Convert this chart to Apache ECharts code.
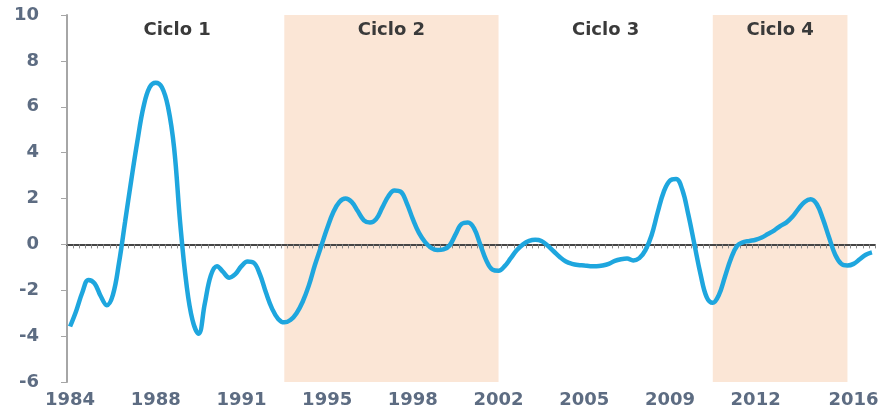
<!DOCTYPE html>
<html>
<head>
<meta charset="utf-8">
<script src="https://cdn.jsdelivr.net/npm/echarts@6/dist/echarts.min.js"></script>
<style>html,body{margin:0;padding:0;background:#fff}#c{width:893px;height:412px}</style>
</head>
<body>
<div id="c"></div>
<script>
// Quarterly categories, 1984T3 .. 2017T2
const categories = [];
for (let k = 0; k < 132; k++) {
  const q = 2 + k;
  categories.push((1984 + Math.floor(q / 4)) + 'T' + (q % 4 + 1));
}
// Series values
const values = [
  -3.58, -2.9, -2.1, -1.55, -1.7, -2.25, -2.65, -2.2, -0.8, 1.0,
  2.8, 4.5, 6.0, 6.85, 7.05, 6.85, 6.0, 4.2, 0.9, -1.7,
  -3.3, -3.9, -2.6, -1.35, -0.95, -1.2, -1.45, -1.3, -0.95, -0.75,
  -0.8, -1.3, -2.1, -2.8, -3.25, -3.4, -3.3, -3.0, -2.5, -1.8,
  -0.9, -0.1, 0.7, 1.4, 1.85, 2.0, 1.85, 1.45, 1.05, 0.95,
  1.1, 1.6, 2.1, 2.35, 2.3, 1.8, 1.1, 0.5, 0.1, -0.15,
  -0.25, -0.22, -0.05, 0.45, 0.9, 0.95, 0.7, 0.0, -0.7, -1.1,
  -1.15, -0.95, -0.6, -0.25, 0.0, 0.15, 0.2, 0.15, -0.05, -0.3,
  -0.55, -0.75, -0.85, -0.9, -0.92, -0.95, -0.95, -0.92, -0.85, -0.72,
  -0.65, -0.62, -0.7, -0.6, -0.25, 0.4, 1.4, 2.3, 2.78, 2.85,
  2.4, 1.3, 0.0, -1.3, -2.3, -2.55, -2.2, -1.4, -0.6, -0.05,
  0.1, 0.15, 0.2, 0.3, 0.45, 0.6, 0.8, 0.95, 1.2, 1.55,
  1.85, 1.97, 1.75, 1.1, 0.3, -0.45, -0.85, -0.92, -0.85, -0.65,
  -0.45, -0.35
];
// Tick labels shown on the category axis (by category index)
const labelIndices = [0, 14, 28, 42, 56, 70, 84, 98, 112, 128];
// Cycles
const cycleNames = ['Ciclo 1', 'Ciclo 2', 'Ciclo 3', 'Ciclo 4'];
const cycleStart = [0, 35, 70, 105];
const cycleEnd = [35, 70, 105, 127];
const cycleShaded = [false, true, false, true];

const yTicks = { min: -6, max: 10, interval: 2 };

const labelFont = { fontFamily: 'DejaVu Sans', fontWeight: 'bold', fontSize: 18, color: '#5d6c82' };

const chart = echarts.init(document.getElementById('c'));
chart.setOption({
  animation: false,
  grid: { left: 67, right: 18, top: 15, bottom: 30, containLabel: false },
  xAxis: [
    {
      type: 'category', data: categories, boundaryGap: true, position: 'bottom', z: 2,
      axisLine: { show: false, onZero: false },
      axisTick: { show: false },
      splitLine: { show: false },
      axisLabel: Object.assign({
        interval: (i) => labelIndices.indexOf(i) >= 0,
        formatter: (v) => v.slice(0, 4),
        margin: 9
      }, labelFont)
    },
    {
      type: 'category', data: categories, boundaryGap: true, position: 'bottom', z: 2,
      axisLine: { show: true, onZero: true, lineStyle: { color: '#454545', width: 2 } },
      axisTick: { show: true, interval: 0, length: 4, lineStyle: { color: '#8a8a8a', width: 1 } },
      axisLabel: { show: false },
      splitLine: { show: false }
    }
  ],
  yAxis: {
    type: 'value', min: yTicks.min, max: yTicks.max, interval: yTicks.interval, z: 2,
    axisLine: { show: true, lineStyle: { color: '#a6a6a6', width: 2 } },
    axisTick: { show: true, length: 6, lineStyle: { color: '#a6a6a6', width: 1 } },
    splitLine: { show: false },
    axisLabel: Object.assign({ margin: 28 }, labelFont)
  },
  series: [
    {
      type: 'line', data: [], z: 1, silent: true,
      markArea: {
        silent: true,
        label: { show: true, position: 'insideTop', distance: 6, color: '#3a3a3a', fontFamily: 'DejaVu Sans', fontWeight: 'bold', fontSize: 18 },
        data: cycleNames.map((n, k) => [
          { name: n, xAxis: categories[cycleStart[k]], itemStyle: { color: cycleShaded[k] ? '#fbe6d6' : 'rgba(0,0,0,0)' } },
          { xAxis: categories[cycleEnd[k]] }
        ])
      }
    },
    {
      type: 'line', data: values, z: 3, smooth: 0.4, symbol: 'none',
      lineStyle: { color: '#1ea6de', width: 4.5 }
    }
  ]
});
</script>
</body>
</html>
